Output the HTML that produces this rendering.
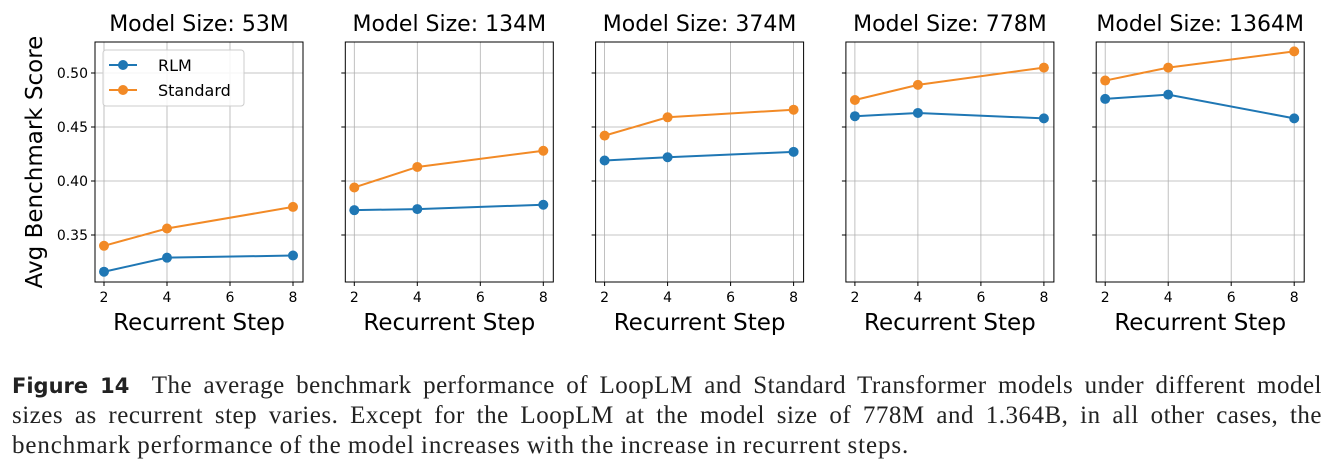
<!DOCTYPE html>
<html><head><meta charset="utf-8"><style>
body{margin:0;width:1335px;height:469px;background:#fff;overflow:hidden;font-family:"DejaVu Sans",sans-serif}
.cl{position:absolute;left:12px;width:1310px;font-family:"Liberation Serif",serif;font-size:25px;letter-spacing:0.5px;word-spacing:-1px;line-height:30px;color:#222;white-space:nowrap;text-align:justify;text-align-last:justify}
.cl b{font-family:"DejaVu Sans",sans-serif;font-weight:bold;font-size:21px;letter-spacing:0}
</style></head><body>
<svg id="chart" width="1335" height="360" style="position:absolute;left:0;top:0"></svg>
<div>
<div class="cl" style="top:371px"><b>Figure 14</b>&nbsp; The average benchmark performance of LoopLM and Standard Transformer models under different model</div>
<div class="cl" style="top:401px">sizes as recurrent step varies. Except for the LoopLM at the model size of 778M and 1.364B, in all other cases, the</div>
<div class="cl" style="top:431px;text-align-last:left;letter-spacing:0.9px">benchmark performance of the model increases with the increase in recurrent steps.</div>
</div>
<script>
const sizes=["53M","134M","374M","778M","1364M"];
const steps=[2,4,8];
const rlm=[[0.316,0.329,0.331],[0.373,0.374,0.378],[0.419,0.422,0.427],[0.460,0.463,0.458],[0.476,0.480,0.458]];
const standard=[[0.340,0.356,0.376],[0.394,0.413,0.428],[0.442,0.459,0.466],[0.475,0.489,0.505],[0.493,0.505,0.520]];
const yTicks=[0.35,0.40,0.45,0.50];
const xTicks=[2,4,6,8];
const svg=document.getElementById('chart');const NS='http://www.w3.org/2000/svg';
function mk(t,a,p){const e=document.createElementNS(NS,t);for(const k in a)e.setAttribute(k,a[k]);(p||svg).appendChild(e);return e;}
const axTop=42,axBot=282,axW=208;
const y=v=>235-(v-0.35)*1080;
sizes.forEach((s,i)=>{
 const L=95+i*250.3;
 const x=v=>L+9+(v-2)*31.5;
 const g=mk('g',{});
 
 
 xTicks.forEach(t=>{mk('line',{x1:x(t),x2:x(t),y1:axTop,y2:axBot,stroke:'#b0b0b0','stroke-width':0.8},g);mk('line',{x1:x(t),x2:x(t),y1:axBot,y2:axBot+4,stroke:'#000'},g);
  const tx=mk('text',{x:x(t),y:axBot+20,'text-anchor':'middle','font-size':14},g);tx.textContent=t;});
 yTicks.forEach(t=>{mk('line',{x1:L,x2:L+axW,y1:y(t),y2:y(t),stroke:'#b0b0b0','stroke-width':0.8},g);mk('line',{x1:L-4,x2:L,y1:y(t),y2:y(t),stroke:'#000'},g);
  if(i==0){const tx=mk('text',{x:L-7,y:y(t)+5,'text-anchor':'end','font-size':14},g);tx.textContent=t.toFixed(2);}});
 mk('rect',{x:L,y:axTop,width:axW,height:axBot-axTop,fill:'none',stroke:'#000','stroke-width':1},g);
 const ti=mk('text',{x:L+axW/2,y:31,'text-anchor':'middle','font-size':22},g);ti.textContent='Model Size: '+s;
 
 const xl=mk('text',{x:L+axW/2,y:330,'text-anchor':'middle','font-size':23},g);xl.textContent='Recurrent Step';
 
 [[rlm[i],'#1f77b4','rlm'],[standard[i],'#f28a26','standard']].forEach(([d,c,n])=>{
  const pl=mk('polyline',{points:d.map((v,j)=>x(steps[j])+','+y(v)).join(' '),fill:'none',stroke:c,'stroke-width':2},g);
  
  d.forEach((v,j)=>{const p=mk('circle',{cx:x(steps[j]),cy:y(v),r:5,fill:c},g);
   });
 });
});
const yl=mk('text',{x:0,y:0,'text-anchor':'middle','font-size':23,transform:'translate(42,162) rotate(-90)'});yl.textContent='Avg Benchmark Score';

const lg=mk('g',{});


mk('rect',{x:103,y:50,width:141,height:56,rx:3,fill:'#fff','fill-opacity':0.85,stroke:'#ccc'},lg);
[['RLM','#1f77b4',65],['Standard','#f28a26',90]].forEach(([n,c,yy])=>{
 mk('line',{x1:109,x2:137,y1:yy,y2:yy,stroke:c,'stroke-width':2},lg);mk('circle',{cx:123,cy:yy,r:5,fill:c},lg);
 const t=mk('text',{x:158,y:yy+6,'font-size':16},lg);t.textContent=n;});
</script>
</body></html>
